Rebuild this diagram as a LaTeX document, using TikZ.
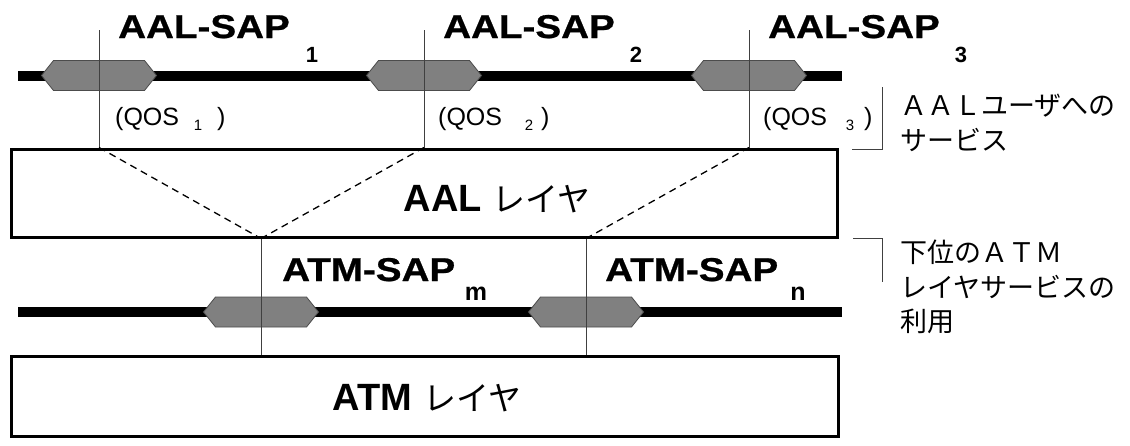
\documentclass[tikz,border=0pt]{standalone}
\usepackage{fontspec}
\setmainfont{Liberation Sans}
\newfontfamily\sapfont{Liberation Sans}[FakeStretch=1.17,FakeBold=0.8]
\newfontfamily\jp{Noto Sans CJK JP}
\begin{document}
\begin{tikzpicture}[x=1pt,y=-1pt,
  bus/.style={line width=10pt},
  hexa/.style={draw=black!70, line width=0.8pt, fill=black!50},
  tick/.style={draw=black!75, line width=0.9pt},
  link/.style={dashed, dash pattern=on 7pt off 5pt, line width=1.3pt},
  layer/.style={draw, line width=3pt, fill=white, inner sep=0pt},
  sap/.style={inner sep=0pt, anchor=base west, font=\sapfont\bfseries\fontsize{33}{33}\selectfont},
  sapsub/.style={inner sep=0pt, anchor=base, font=\bfseries\fontsize{22}{22}\selectfont},
  atmsub/.style={inner sep=0pt, anchor=base, font=\bfseries\fontsize{25}{25}\selectfont},
  qos/.style={inner sep=0pt, anchor=base west, font=\fontsize{25}{25}\selectfont},
  qossub/.style={inner sep=0pt, anchor=base, font=\fontsize{15}{15}\selectfont},
  note/.style={inner sep=0pt, anchor=base west, font=\jp\fontsize{27}{27}\selectfont},
  laylabel/.style={inner sep=0pt, font=\bfseries\fontsize{38}{38}\selectfont}]
\useasboundingbox (0,0) rectangle (1130,445);

% service access point lines
\coordinate (aalbusL) at (18,75.5);
\coordinate (aalbusR) at (842,75.5);
\coordinate (atmbusL) at (18,312);
\coordinate (atmbusR) at (842,312);
\draw[bus] (aalbusL) -- (aalbusR);
\draw[bus] (atmbusL) -- (atmbusR);

% hexagonal access points
\coordinate (h1) at (99,75.5);
\coordinate (h2) at (424,75.5);
\coordinate (h3) at (749,75.5);
\coordinate (hm) at (261,312);
\coordinate (hn) at (586,312);
\foreach \h in {h1,h2,h3,hm,hn}
  \draw[hexa] (\h) ++(-57.5,0) -- ++(12,-15) -- ++(91,0) -- ++(12,15)
    -- ++(-12,15) -- ++(-91,0) -- cycle;

% layers
\node[layer, minimum width=826pt, minimum height=88pt] (aal) at (424,193) {};
\node[layer, minimum width=827pt, minimum height=80pt] (atm) at (424.5,396) {};
\node[laylabel] (aallab) at (497,199) {AAL {\mdseries\jp\fontsize{33}{33}\selectfont レイヤ}};
\node[laylabel] (atmlab) at (427,398) {ATM {\mdseries\jp\fontsize{33}{33}\selectfont レイヤ}};

% vertical ticks through the access points
\coordinate (t1) at (99,30);
\coordinate (t2) at (424,30);
\coordinate (t3) at (749,30);
\coordinate (b1) at (t1 |- aal.north);
\coordinate (b2) at (t2 |- aal.north);
\coordinate (b3) at (t3 |- aal.north);
\coordinate (sm) at (hm |- aal.south);
\coordinate (sn) at (hn |- aal.south);
\coordinate (em) at (hm |- atm.north);
\coordinate (en) at (hn |- atm.north);
\draw[tick] (t1) -- (b1);
\draw[tick] (t2) -- (b2);
\draw[tick] (t3) -- (b3);
\draw[tick] (sm) -- (em);
\draw[tick] (sn) -- (en);

% mapping inside the AAL layer
\draw[link] (b1) -- (sm);
\draw[link] (b2) -- (sm);
\draw[link] (b3) -- (sn);

% access point labels
\node[sap] (sap1) at (118,38) {AAL-SAP};
\node[sapsub] (sap1s) at (312,62) {1};
\node[sap] (sap2) at (443,38) {AAL-SAP};
\node[sapsub] (sap2s) at (636,62) {2};
\node[sap] (sap3) at (768,38) {AAL-SAP};
\node[sapsub] (sap3s) at (961,62) {3};
\node[sap] (sapm) at (282,281) {ATM-SAP};
\node[atmsub] (sapms) at (476,300) {m};
\node[sap] (sapn) at (605,281) {ATM-SAP};
\node[atmsub] (sapns) at (798,300) {n};

% quality of service labels
\node[qos] (q1) at (115,125) {(QOS};
\node[qossub] (q1s) at (198,130) {1};
\node[qos] (q1r) at (217,125) {)};
\node[qos] (q2) at (438,125) {(QOS};
\node[qossub] (q2s) at (529,130) {2};
\node[qos] (q2r) at (541,125) {)};
\node[qos] (q3) at (763,125) {(QOS};
\node[qossub] (q3s) at (850,130) {3};
\node[qos] (q3r) at (864,125) {)};

% side notes with brackets
\coordinate (k1a) at (852,149);
\coordinate (k1b) at (882,149);
\coordinate (k1c) at (882,87);
\draw[tick] (k1a) -- (k1b) -- (k1c);
\coordinate (k2a) at (853,238);
\coordinate (k2b) at (882,238);
\coordinate (k2c) at (882,282);
\draw[tick] (k2a) -- (k2b) -- (k2c);
\node[note] (n1) at (900,115) {ＡＡＬユーザへの};
\node[note] (n2) at (900,150) {サービス};
\node[note] (n3) at (900,262) {下位のＡＴＭ};
\node[note] (n4) at (900,297) {レイヤサービスの};
\node[note] (n5) at (900,331) {利用};
\end{tikzpicture}
\end{document}
